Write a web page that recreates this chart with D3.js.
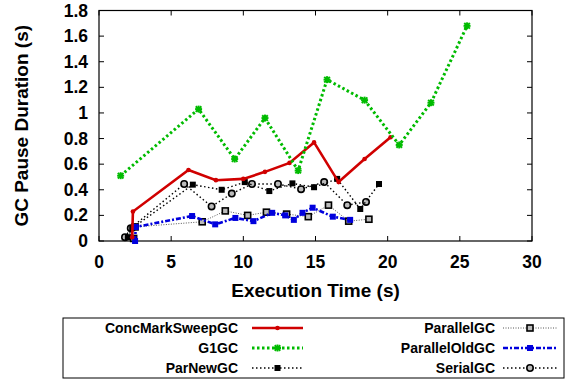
<!DOCTYPE html>
<html><head><meta charset="utf-8">
<script src="https://cdn.jsdelivr.net/npm/d3@7"></script>
<style>
body{margin:0;background:#fff;}
text{font-family:"Liberation Sans",Arial,Helvetica,sans-serif;font-weight:bold;}
</style></head>
<body><svg id="c" width="567" height="380"></svg>
<script>
const xTicks = [0,5,10,15,20,25,30];
const yTicks = [0,0.2,0.4,0.6,0.8,1,1.2,1.4,1.6,1.8];
const seriesNames = ["ConcMarkSweepGC","G1GC","ParNewGC","ParallelGC","ParallelOldGC","SerialGC"];
const cmsX = [2.3,2.35,6.2,8.1,10.0,11.5,13.2,14.9,16.6,18.4,20.2];
const cmsY = [0.03,0.23,0.555,0.475,0.485,0.54,0.61,0.77,0.46,0.64,0.81];
const g1X = [1.5,6.9,9.4,11.5,13.8,15.8,18.4,20.8,23.0,25.5];
const g1Y = [0.51,1.03,0.64,0.96,0.55,1.26,1.10,0.75,1.08,1.68];
const parNewX = [2.0,2.3,6.5,8.5,10.1,11.8,13.4,14.9,16.5,18.1,19.4];
const parNewY = [0.03,0.1,0.44,0.40,0.46,0.39,0.45,0.42,0.485,0.25,0.445];
const parallelX = [2.4,2.5,7.15,8.75,10.3,11.6,13.0,14.5,15.9,17.3,18.7];
const parallelY = [0.02,0.11,0.15,0.235,0.2,0.225,0.21,0.19,0.28,0.155,0.17];
const parOldX = [2.5,2.55,6.45,8.05,9.45,10.7,12.0,12.9,13.5,14.1,14.8,16.2,17.4];
const parOldY = [0.0,0.11,0.195,0.13,0.18,0.155,0.22,0.2,0.165,0.22,0.26,0.19,0.165];
const serialX = [1.8,2.2,5.9,7.8,9.2,10.6,12.4,14.0,15.6,17.2,18.5];
const serialY = [0.03,0.1,0.445,0.27,0.37,0.445,0.445,0.405,0.46,0.28,0.305];

const svg = d3.select("#c");
const L=99, R=532, T=10.5, B=241;
const x = d3.scaleLinear().domain([0,30]).range([L,R]);
const y = d3.scaleLinear().domain([0,1.8]).range([B,T]);

const styles = {
  ConcMarkSweepGC:{color:"#d00000",w:2.6,dash:null,marker:"dot"},
  G1GC:{color:"#00bb00",w:3,dash:"2.5,2.5",marker:"star"},
  ParNewGC:{color:"#000",w:1.4,dash:"1.5,2.5",marker:"fsq"},
  ParallelGC:{color:"#555",w:1,dash:"1,1.5",marker:"osq"},
  ParallelOldGC:{color:"#0000dd",w:2.6,dash:"5,2,2,2",marker:"bsq"},
  SerialGC:{color:"#000",w:1.4,dash:"1.5,2.5",marker:"ocirc"}
};
const data = {
  ConcMarkSweepGC:cmsX.map((v,i)=>[v,cmsY[i]]),
  G1GC:g1X.map((v,i)=>[v,g1Y[i]]),
  ParNewGC:parNewX.map((v,i)=>[v,parNewY[i]]),
  ParallelGC:parallelX.map((v,i)=>[v,parallelY[i]]),
  ParallelOldGC:parOldX.map((v,i)=>[v,parOldY[i]]),
  SerialGC:serialX.map((v,i)=>[v,serialY[i]])
};

const g = svg.append("g");
xTicks.forEach(t=>{
  g.append("line").attr("x1",x(t)).attr("x2",x(t)).attr("y1",B).attr("y2",B-5).attr("stroke","#000");
  g.append("line").attr("x1",x(t)).attr("x2",x(t)).attr("y1",T).attr("y2",T+5).attr("stroke","#000");
  g.append("text").attr("x",x(t)).attr("y",B+27).attr("text-anchor","middle").attr("font-size",17.5).text(t);
});
yTicks.forEach(t=>{
  g.append("line").attr("x1",L).attr("x2",L+5).attr("y1",y(t)).attr("y2",y(t)).attr("stroke","#000");
  g.append("line").attr("x1",R).attr("x2",R-5).attr("y1",y(t)).attr("y2",y(t)).attr("stroke","#000");
  g.append("text").attr("x",L-11).attr("y",y(t)+6).attr("text-anchor","end").attr("font-size",17.5).text(d3.format("~g")(t));
});
g.append("rect").attr("x",L).attr("y",T).attr("width",R-L).attr("height",B-T).attr("fill","none").attr("stroke","#000").attr("stroke-width",1.2);

g.append("text").attr("x",(L+R)/2).attr("y",297).attr("text-anchor","middle").attr("font-size",19).text("Execution Time (s)");
g.append("text").attr("transform","translate(28,"+((T+B)/2)+") rotate(-90)").attr("text-anchor","middle").attr("font-size",19).text("GC Pause Duration (s)");

function marker(sel, type, cx, cy, color){
  if(type==="dot") sel.append("circle").attr("cx",cx).attr("cy",cy).attr("r",2.3).attr("fill",color);
  else if(type==="star"){
    const s=sel.append("g").attr("transform",`translate(${cx},${cy})`);
    [[-3.5,0,3.5,0],[0,-3.5,0,3.5],[-2.8,-2.8,2.8,2.8],[-2.8,2.8,2.8,-2.8]].forEach(l=>s.append("line").attr("x1",l[0]).attr("y1",l[1]).attr("x2",l[2]).attr("y2",l[3]).attr("stroke",color).attr("stroke-width",2));
  }
  else if(type==="fsq") sel.append("rect").attr("x",cx-3).attr("y",cy-3).attr("width",6).attr("height",6).attr("fill","#000");
  else if(type==="bsq") sel.append("rect").attr("x",cx-3).attr("y",cy-3).attr("width",6).attr("height",6).attr("fill",color);
  else if(type==="osq") sel.append("rect").attr("x",cx-3).attr("y",cy-3).attr("width",6).attr("height",6).attr("fill","#bbb").attr("stroke","#000").attr("stroke-width",1.6);
  else if(type==="ocirc") sel.append("circle").attr("cx",cx).attr("cy",cy).attr("r",3.2).attr("fill","#bbb").attr("stroke","#000").attr("stroke-width",1.6);
}

const line = d3.line().x(d=>x(d[0])).y(d=>y(d[1]));
const plot = svg.append("g");
["ParallelGC","SerialGC","ParNewGC","ParallelOldGC","ConcMarkSweepGC","G1GC"].forEach(n=>{
  const st = styles[n];
  plot.append("path").datum(data[n]).attr("d",line).attr("fill","none").attr("stroke",st.color)
    .attr("stroke-width",st.w).attr("stroke-dasharray",st.dash);
  data[n].forEach(d=>marker(plot, st.marker, x(d[0]), y(d[1]), st.color));
});

const lg = svg.append("g");
lg.append("rect").attr("x",63).attr("y",318).attr("width",501).attr("height",60).attr("fill","none").attr("stroke","#000").attr("stroke-width",1);
const rows=[328,348,368];
seriesNames.forEach((n,i)=>{
  const col = Math.floor(i/3), r = i%3;
  const tx = col===0?238:495, lx1 = col===0?252:503, lx2 = col===0?303:557;
  const ly = rows[r];
  lg.append("text").attr("x",tx).attr("y",ly+5).attr("text-anchor","end").attr("font-size",14).text(n);
  const st = styles[n];
  lg.append("line").attr("x1",lx1).attr("x2",lx2).attr("y1",ly).attr("y2",ly).attr("stroke",st.color)
    .attr("stroke-width",st.w).attr("stroke-dasharray",st.dash);
  marker(lg, st.marker, (lx1+lx2)/2, ly, st.color);
});
</script></body></html>
